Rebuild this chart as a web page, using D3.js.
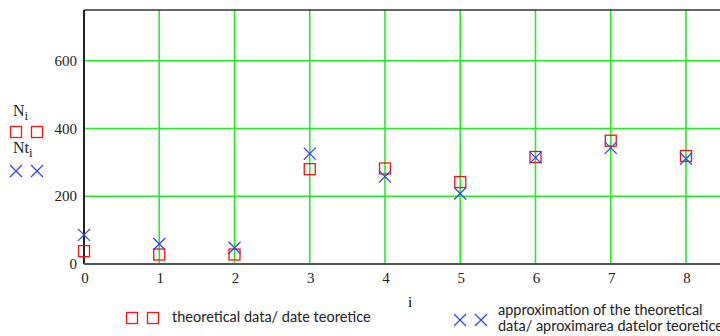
<!DOCTYPE html>
<html>
<head>
<meta charset="utf-8">
<script src="https://cdn.jsdelivr.net/npm/d3@7"></script>
<style>
  body { margin: 0; background: #fff; }
  svg { display: block; }
</style>
</head>
<body>
<div id="chart"></div>
<script>
// values
const idx = [0, 1, 2, 3, 4, 5, 6, 7, 8];
const N = [38, 28, 28, 280, 282, 242, 316, 364, 319];
const Nt = [86, 59, 48, 326, 258, 208, 314, 343, 311];
const xTicks = [0, 1, 2, 3, 4, 5, 6, 7, 8];
const yTicks = [0, 200, 400, 600];

const width = 720, height = 336;
const plotLeft = 84, plotTop = 10, plotBottom = 264;

const svg = d3.select("#chart")
  .append("svg")
    .attr("width", width)
    .attr("height", height);

const x = d3.scaleLinear().domain([0, 8]).range([plotLeft, 686]);
const y = d3.scaleLinear().domain([0, 750]).range([plotBottom, plotTop]);

// grid
svg.append("g")
  .selectAll("line")
  .data(xTicks.slice(1))
  .enter().append("line")
    .attr("x1", d => x(d)).attr("x2", d => x(d))
    .attr("y1", plotTop).attr("y2", plotBottom)
    .attr("stroke", "#22ee22").attr("stroke-width", 1.6);

svg.append("g")
  .selectAll("line")
  .data(yTicks.slice(1))
  .enter().append("line")
    .attr("x1", plotLeft).attr("x2", width)
    .attr("y1", d => y(d)).attr("y2", d => y(d))
    .attr("stroke", "#22ee22").attr("stroke-width", 1.6);

// frame
svg.append("line")
  .attr("x1", plotLeft).attr("x2", width).attr("y1", plotTop).attr("y2", plotTop)
  .attr("stroke", "#333").attr("stroke-width", 1.5);
svg.append("line")
  .attr("x1", plotLeft).attr("x2", plotLeft).attr("y1", plotTop).attr("y2", plotBottom)
  .attr("stroke", "#222").attr("stroke-width", 2);
svg.append("line")
  .attr("x1", plotLeft).attr("x2", width).attr("y1", plotBottom).attr("y2", plotBottom)
  .attr("stroke", "#555").attr("stroke-width", 2);

// tick labels
const tickFont = "'Liberation Serif', serif";
svg.append("g")
  .selectAll("text")
  .data(yTicks)
  .enter().append("text")
    .attr("x", 77)
    .attr("y", d => y(d) + 5)
    .attr("text-anchor", "end")
    .attr("font-family", tickFont)
    .attr("font-size", 15)
    .attr("fill", "#222")
    .text(d => d);

svg.append("g")
  .selectAll("text")
  .data(xTicks)
  .enter().append("text")
    .attr("x", d => x(d) + 1)
    .attr("y", 283)
    .attr("text-anchor", "middle")
    .attr("font-family", tickFont)
    .attr("font-size", 15)
    .attr("fill", "#222")
    .text(d => d);

svg.append("text")
  .attr("x", 410).attr("y", 307)
  .attr("text-anchor", "middle")
  .attr("font-family", tickFont)
  .attr("font-size", 15)
  .text("i");

// markers
const sq = 11, cr = 6;
function square(g, cx, cy) {
  g.append("rect")
    .attr("x", cx - sq / 2).attr("y", cy - sq / 2)
    .attr("width", sq).attr("height", sq)
    .attr("fill", "none").attr("stroke", "#ff1010").attr("stroke-width", 1.3);
}
function cross(g, cx, cy) {
  g.append("path")
    .attr("d", `M${cx - cr},${cy - cr}L${cx + cr},${cy + cr}M${cx - cr},${cy + cr}L${cx + cr},${cy - cr}`)
    .attr("stroke", "#3344ff").attr("stroke-width", 1.3).attr("fill", "none");
}

const pts = svg.append("g");
idx.forEach((i, k) => square(pts, x(i), y(N[k])));
idx.forEach((i, k) => cross(pts, x(i), y(Nt[k])));

// left legend
const lg = svg.append("g").attr("font-family", tickFont).attr("font-size", 16).attr("fill", "#222");
const n1 = lg.append("text").attr("x", 13).attr("y", 116);
n1.append("tspan").text("N");
n1.append("tspan").attr("font-size", 13).attr("dy", 4).text("i");
square(lg, 16, 132);
square(lg, 37, 132);
const n2 = lg.append("text").attr("x", 13).attr("y", 153);
n2.append("tspan").text("Nt");
n2.append("tspan").attr("font-size", 13).attr("dy", 4).text("i");
cross(lg, 16, 171);
cross(lg, 37, 171);

// bottom legend
const bl = svg.append("g").attr("font-family", "Lato, sans-serif").attr("font-size", 14.5).attr("fill", "#222");
square(bl, 132, 318);
square(bl, 153, 318);
bl.append("text").attr("x", 172).attr("y", 322).text("theoretical data/ date teoretice");
cross(bl, 460, 320);
cross(bl, 481, 320);
bl.append("text").attr("x", 498).attr("y", 315).text("approximation of the theoretical");
bl.append("text").attr("x", 498).attr("y", 331).text("data/ aproximarea datelor teoretice");
</script>
</body>
</html>
